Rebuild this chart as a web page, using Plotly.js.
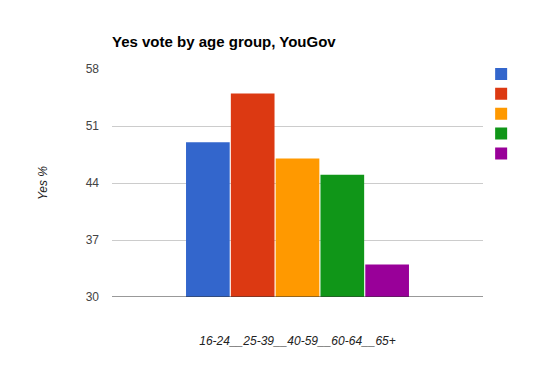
<!DOCTYPE html>
<html>
<head>
<meta charset="utf-8">
<script src="https://cdn.plot.ly/plotly-3.0.1.min.js"></script>
<style>html,body{margin:0;padding:0;background:#fff;}#chart{width:545px;height:367px;}</style>
</head>
<body>
<div id="chart"></div>
<script>
const categories = ["16-24__25-39__40-59__60-64__65+"];
const seriesNames = ["16-24", "25-39", "40-59", "60-64", "65+"];
const seriesValues = [49, 55, 47, 45, 34];
const colors = ["#3366cc", "#dc3912", "#ff9900", "#109618", "#990099"];
const yTicks = [30, 37, 44, 51, 58];

const traces = seriesValues.map((v, i) => ({
  type: "bar",
  x: categories,
  y: [v],
  name: "",
  marker: {color: colors[i], line: {width: 0}},
  hoverinfo: "y",
  showlegend: true
}));

const layout = {
  width: 545, height: 367,
  margin: {l: 112, r: 62, t: 69, b: 70},
  paper_bgcolor: "#fff", plot_bgcolor: "#fff",
  font: {family: "Liberation Sans, Arial, sans-serif", size: 12, color: "#444"},
  title: {text: "<b>Yes vote by age group, YouGov</b>", x: 112/545, xanchor: "left", y: 1 - 42/367, yanchor: "middle",
          font: {size: 15, color: "#000", family: "Liberation Sans, Arial, sans-serif"}},
  barmode: "group",
  bargap: 0.396,
  bargroupgap: 0.025,
  xaxis: {type: "category", showgrid: false, showline: false, zeroline: false, ticks: "",
          ticklabelstandoff: 35, tickfont: {size: 12, color: "#222", style: "italic"}},
  yaxis: {range: [30, 58], tickvals: yTicks, showgrid: true, gridcolor: "#cccccc", gridwidth: 1,
          zeroline: false, showline: false, ticks: "", ticklabelstandoff: 12,
          tickfont: {size: 12, color: "#444"},
          title: {text: "Yes %", standoff: 35, font: {size: 12, color: "#222", style: "italic"}}},
  shapes: [{type: "line", xref: "paper", yref: "y", x0: 0, x1: 1, y0: 30, y1: 30, line: {color: "#333", width: 1}}],
  legend: {x: 0.995, xanchor: "left", y: 1.044, yanchor: "top", font: {size: 13}, bgcolor: "rgba(0,0,0,0)", tracegroupgap: 0}
};

Plotly.newPlot("chart", traces, layout, {staticPlot: true, displayModeBar: false});
</script>
</body>
</html>
